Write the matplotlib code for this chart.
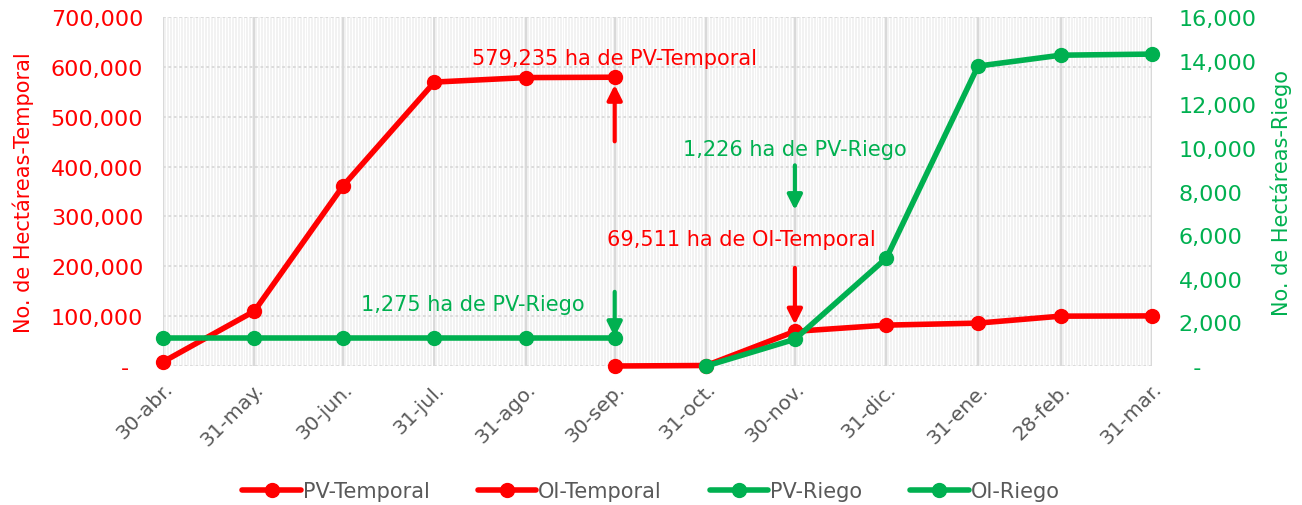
"""
Avance de siembra: hectareas de temporal y riego, ciclos PV y OI.
"""

from datetime import date

import matplotlib.dates as mdates
from matplotlib import pyplot as plt
from matplotlib.ticker import FuncFormatter, MultipleLocator

RED = "#FF0000"
GREEN = "#00B050"
GRAY = "#595959"

# Fechas de corte (eje de fechas, espaciado por dias)
dates = [date(2022, 4, 30), date(2022, 5, 31), date(2022, 6, 30), date(2022, 7, 31),
         date(2022, 8, 31), date(2022, 9, 30), date(2022, 10, 31), date(2022, 11, 30),
         date(2022, 12, 31), date(2023, 1, 31), date(2023, 2, 28), date(2023, 3, 31)]
date_labels = ["30-abr.", "31-may.", "30-jun.", "31-jul.", "31-ago.", "30-sep.",
               "31-oct.", "30-nov.", "31-dic.", "31-ene.", "28-feb.", "31-mar."]

# Series (ha)
pv_temporal = [8000, 110000, 361000, 569500, 578500, 579235]
oi_temporal = [0, 1000, 69511, 82000, 86000, 100000, 100500]
pv_riego = [1275, 1275, 1275, 1275, 1275, 1275]
oi_riego = [0, 1226, 4950, 13750, 14250, 14300]

pv_temporal_dates = dates[0:6]
oi_temporal_dates = dates[5:12]
pv_riego_dates = dates[0:6]
oi_riego_dates = dates[6:12]


def fmt_thousands(v, pos):
    return "-  " if v == 0 else f"{v:,.0f}"


def fmt_thousands_right(v, pos):
    return "  -" if v == 0 else f"{v:,.0f}"


plt.rcParams["font.family"] = ["DejaVu Sans"]

fig = plt.figure(figsize=(13.02, 5.06), dpi=100)
ax = fig.add_axes([0.125, 0.2747, 0.76, 0.6897])
ax2 = ax.twinx()

ax.set_facecolor("#F2F2F2")
for s in ax.spines.values():
    s.set_visible(False)
for s in ax2.spines.values():
    s.set_visible(False)

# fine daily stripes + major gridlines
ax.xaxis.set_minor_locator(mdates.DayLocator())
ax.grid(which="minor", axis="x", color="white", lw=0.8)
ax.set_xticks(dates)
ax.set_xticklabels(date_labels, rotation=45, ha="right", rotation_mode="anchor",
                   color=GRAY, fontsize=14.5)
ax.grid(which="major", axis="x", color="#D9D9D9", lw=1.5)
ax.grid(which="major", axis="y", color="#D9D9D9", lw=1.3, ls=(0, (1.5, 1.5)))
ax.set_axisbelow(True)
ax.tick_params(axis="x", which="both", length=0, pad=9)
ax.tick_params(axis="y", length=0, pad=14)

ax.set_xlim(dates[0], dates[-1])
ax.set_ylim(0, 700000)
ax.yaxis.set_major_locator(MultipleLocator(100000))
ax.yaxis.set_major_formatter(FuncFormatter(fmt_thousands))
for lbl in ax.get_yticklabels():
    lbl.set_color(RED)
    lbl.set_fontsize(16)
ax.set_ylabel("No. de Hectáreas-Temporal", color=RED, fontsize=15, labelpad=12)

ax2.set_ylim(0, 16000)
ax2.yaxis.set_major_locator(MultipleLocator(2000))
ax2.yaxis.set_major_formatter(FuncFormatter(fmt_thousands_right))
ax2.tick_params(axis="y", length=0, pad=19, labelcolor=GREEN, labelsize=16)
ax2.set_ylabel("No. de Hectáreas-Riego", color=GREEN, fontsize=15, labelpad=10)

line_kw = dict(lw=4, marker="o", ms=10, clip_on=False, solid_capstyle="round")
l1, = ax.plot(pv_temporal_dates, pv_temporal, color=RED, label="PV-Temporal", **line_kw)
l2, = ax.plot(oi_temporal_dates, oi_temporal, color=RED, label="OI-Temporal", **line_kw)
l3, = ax2.plot(pv_riego_dates, pv_riego, color=GREEN, label="PV-Riego", **line_kw)
l4, = ax2.plot(oi_riego_dates, oi_riego, color=GREEN, label="OI-Riego", **line_kw)

arrow_kw = dict(arrowstyle="-|>", lw=3, mutation_scale=22, shrinkA=0, shrinkB=0)

# PV-Temporal final
ax2.annotate("", xy=(dates[5], 579235 * 16000 / 700000 - 350), xytext=(dates[5], 10300),
             arrowprops=dict(color=RED, **arrow_kw))
ax2.text(dates[5], 14100, "579,235 ha de PV-Temporal", color=RED, fontsize=15,
         ha="center", va="center")

# PV-Riego
ax2.annotate("", xy=(dates[5], 1275 + 50), xytext=(dates[5], 3400),
             arrowprops=dict(color=GREEN, **arrow_kw))
ax2.text(date(2022, 8, 13), 2850, "1,275 ha de PV-Riego", color=GREEN, fontsize=15,
         ha="center", va="center")

# OI-Riego (etiqueta original: PV-Riego)
ax2.annotate("", xy=(dates[7], 7150), xytext=(dates[7], 9200),
             arrowprops=dict(color=GREEN, **arrow_kw))
ax2.text(dates[7], 9950, "1,226 ha de PV-Riego", color=GREEN, fontsize=15,
         ha="center", va="center")

# OI-Temporal
ax2.annotate("", xy=(dates[7], 1900), xytext=(dates[7], 4500),
             arrowprops=dict(color=RED, **arrow_kw))
ax2.text(date(2022, 11, 12), 5800, "69,511 ha de OI-Temporal", color=RED, fontsize=15,
         ha="center", va="center")

leg = fig.legend(handles=[l1, l2, l3, l4], loc="center", ncol=4,
                 bbox_to_anchor=(0.5, 0.027), frameon=False, fontsize=15,
                 handlelength=2.8, columnspacing=2.3, handletextpad=0.1,
                 labelcolor=GRAY)

fig.savefig("out.png", dpi=100)
